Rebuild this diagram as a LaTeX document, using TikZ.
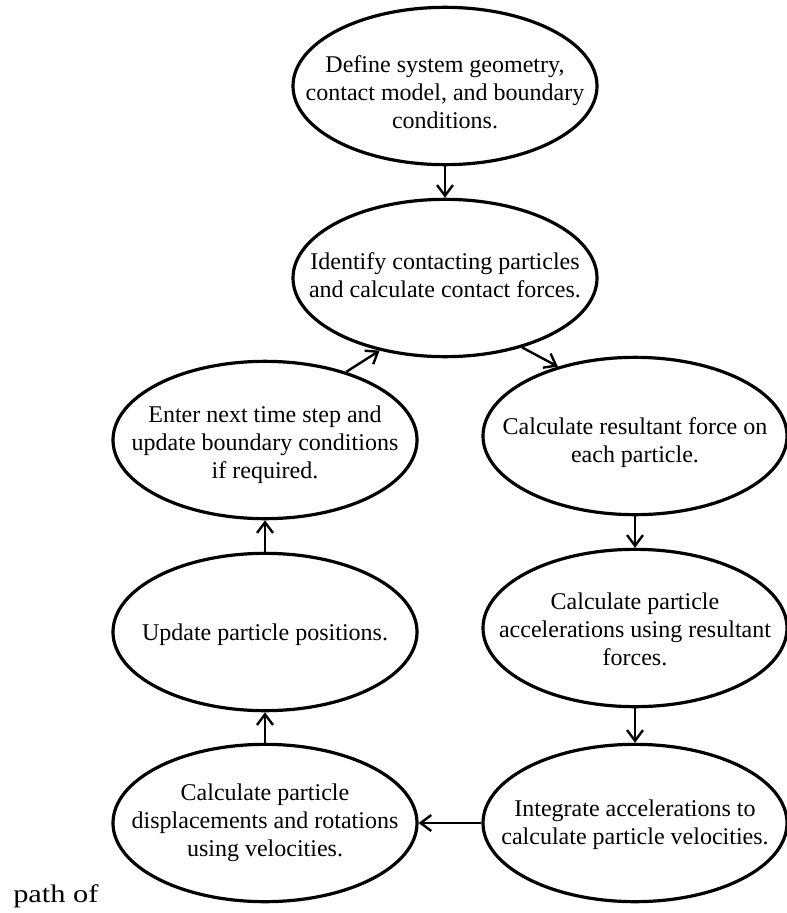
\documentclass[tikz,border=0pt]{standalone}
\usepackage{fontspec}
\usepackage{graphicx}
\setmainfont{Liberation Serif}
\usetikzlibrary{shapes.geometric,arrows.meta}

\newcommand{\ovaltxt}[1]{\begin{tabular}{@{}c@{}}#1\end{tabular}}

\begin{document}
\begin{tikzpicture}[x=0.75pt,y=-0.75pt,
    oval/.style={ellipse, draw, line width=2.4pt, minimum width=228pt, minimum height=118pt, inner sep=0pt},
    every label/.style={inner sep=0pt, font=\fontsize{18}{21}\selectfont},
    flow/.style={line width=1.8pt, -{Straight Barb[length=8pt,width=12pt]}}]
    \useasboundingbox (0,0) rectangle (787,913);

    % Steps of the cycle (text sits a little low in most ovals)
    \node[oval, label={[yshift=-6.5pt]center:\ovaltxt{Define system geometry,\\contact model, and boundary\\conditions.}}] (define) at (445,86) {};
    \node[oval, label={center:\ovaltxt{Identify contacting particles\\and calculate contact forces.}}] (ident) at (445,278) {};
    \node[oval, label={[yshift=-4pt]center:\ovaltxt{Enter next time step and\\update boundary conditions\\if required.}}] (enter) at (265,440) {};
    \node[oval, label={[yshift=-5pt]center:\ovaltxt{Calculate resultant force on\\each particle.}}] (result) at (635,436) {};
    \node[oval, label={[yshift=-2pt]center:\ovaltxt{Update particle positions.}}] (update) at (265,632) {};
    \node[oval, label={[yshift=-3pt]center:\ovaltxt{Calculate particle\\accelerations using resultant\\forces.}}] (accel) at (635,628) {};
    \node[oval, label={center:\ovaltxt{Calculate particle\\displacements and rotations\\using velocities.}}] (displ) at (265,823) {};
    \node[oval, label={[yshift=-1.5pt]center:\ovaltxt{Integrate accelerations to\\calculate particle velocities.}}] (integ) at (635,823) {};

    % Draw arrows between the steps
    \draw[flow] (define.south) -- (ident.north);
    \draw[flow] (ident.318) -- (result.138);
    \draw[flow] (result.south) -- (accel.north);
    \draw[flow] (accel.south) -- (integ.north);
    \draw[flow] (integ.west) -- (displ.east);
    \draw[flow] (displ.north) -- (update.south);
    \draw[flow] (update.north) -- (enter.south);
    \draw[flow] (enter.40) -- (ident.228);

    % Loose text below
    \node[anchor=base west, inner sep=0pt, font=\fontsize{19}{21}\selectfont] (pathof) at (13,902) {\scalebox{1.2}[1]{path of}};
\end{tikzpicture}
\end{document}
